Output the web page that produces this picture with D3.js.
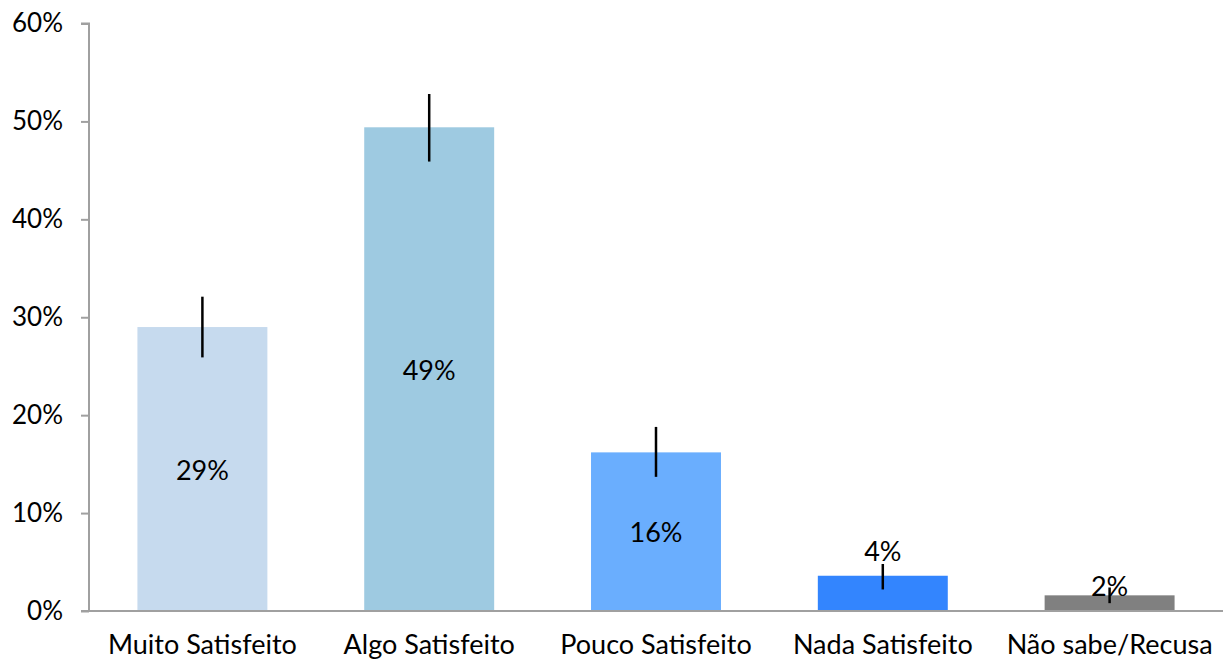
<!DOCTYPE html>
<html><head><meta charset="utf-8">
<script src="https://cdn.jsdelivr.net/npm/d3@7"></script>
<style>body{margin:0;background:#fff;}svg{display:block;font-family:Lato,"Open Sans",sans-serif;}</style>
</head><body><svg id="c" width="1223" height="660"></svg>
<script>
const categories = ["Muito Satisfeito","Algo Satisfeito","Pouco Satisfeito","Nada Satisfeito","Não sabe/Recusa"];
const values = [29.0, 49.4, 16.2, 3.6, 1.6];
const errLow = [25.9, 45.9, 13.7, 2.2, 0.8];
const errHigh = [32.1, 52.8, 18.8, 4.8, 2.4];
const labels = ["29%","49%","16%","4%","2%"];
const colors = ["#c6daee","#9ecae1","#6aaefe","#3385fe","#808080"];
const yTicks = [0,10,20,30,40,50,60];

const svg = d3.select("#c");
const x = d3.scaleBand().domain(categories).range([89,1223]).paddingInner(0.427).paddingOuter(0.2135);
const y = d3.scaleLinear().domain([0,60]).range([611,23.5]);

// y axis
const ya = svg.append("g").attr("transform","translate(89,0)")
  .call(d3.axisLeft(y).tickValues(yTicks).tickSize(8).tickPadding(18).tickFormat(d=>d+"%"));
ya.select(".domain").attr("stroke","#a0a0a0").attr("stroke-width",2).attr("d","M-8,23.5H0V611");
ya.selectAll(".tick line").attr("stroke","#a0a0a0").attr("stroke-width",2);
ya.selectAll(".tick text").attr("font-size",26).attr("fill","#000").attr("font-family","Lato");

// bars
svg.selectAll("rect.bar").data(values).join("rect").attr("class","bar")
  .attr("x",(d,i)=>x(categories[i])).attr("width",x.bandwidth())
  .attr("y",d=>y(d)).attr("height",d=>y(0)-y(d)).attr("fill",(d,i)=>colors[i]);

// x axis baseline
const xa = svg.append("g").attr("transform","translate(0,611)")
  .call(d3.axisBottom(x).tickSize(0).tickPadding(24));
xa.select(".domain").attr("stroke","#a0a0a0").attr("stroke-width",2).attr("d","M81,0H1223");
xa.selectAll(".tick text").attr("font-size",27).attr("fill","#000").attr("font-family","Lato");

// error bars
svg.selectAll("line.err").data(values).join("line").attr("class","err")
  .attr("x1",(d,i)=>x(categories[i])+x.bandwidth()/2).attr("x2",(d,i)=>x(categories[i])+x.bandwidth()/2)
  .attr("y1",(d,i)=>y(errHigh[i])).attr("y2",(d,i)=>y(errLow[i]))
  .attr("stroke","#000").attr("stroke-width",2.5);

// labels
const labelPos = (d,i)=> d>10 ? d/2 : (i===3 ? d+2.6 : d+1.05);
svg.selectAll("text.lbl").data(values).join("text").attr("class","lbl")
  .attr("x",(d,i)=>x(categories[i])+x.bandwidth()/2)
  .attr("y",(d,i)=>y(labelPos(d,i)))
  .attr("dy","0.4em").attr("text-anchor","middle")
  .attr("font-size",27).attr("fill","#000")
  .text((d,i)=>labels[i]);
</script></body></html>
